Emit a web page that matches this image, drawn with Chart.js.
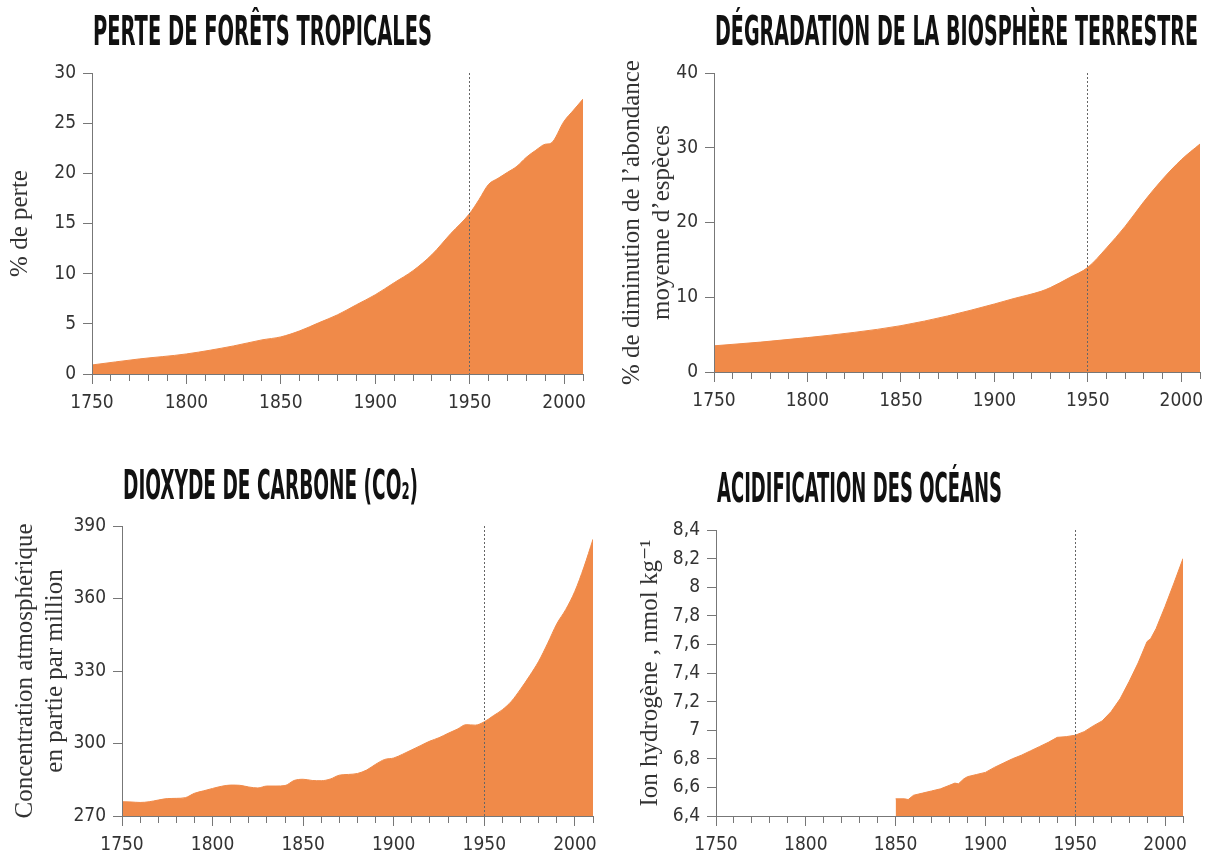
<!DOCTYPE html>
<html>
<head>
<meta charset="utf-8">
<script src="https://cdn.jsdelivr.net/npm/chart.js@4.4.1/dist/chart.umd.min.js"></script>
<style>
  html, body { margin: 0; padding: 0; background: #fff; }
  #page { position: relative; width: 1209px; height: 856px; overflow: hidden; }
  .panel { position: absolute; }
</style>
</head>
<body>
<div id="page">
  <div class="panel" style="left:0;top:0"><canvas id="forest" width="604" height="430"></canvas></div>
  <div class="panel" style="left:604px;top:0"><canvas id="biosphere" width="605" height="430"></canvas></div>
  <div class="panel" style="left:0;top:430px"><canvas id="co2" width="604" height="426"></canvas></div>
  <div class="panel" style="left:604px;top:430px"><canvas id="ocean" width="605" height="426"></canvas></div>
</div>
<script>
// values
const forestYears = [1750, 1775, 1800, 1825, 1840, 1850, 1860, 1870, 1880, 1890, 1900, 1910, 1920, 1930, 1940, 1950, 1955, 1960, 1965, 1970, 1975, 1980, 1985, 1990, 1993, 2000, 2005, 2010]
const forestLoss = [0.9, 1.5, 2.0, 2.8, 3.4, 3.7, 4.3, 5.1, 5.9, 6.9, 7.9, 9.1, 10.3, 11.9, 14.0, 16.0, 17.4, 18.9, 19.5, 20.1, 20.7, 21.6, 22.3, 22.9, 23.0, 25.2, 26.3, 27.4]

const biosphereYears = [1750, 1775, 1800, 1825, 1850, 1875, 1900, 1910, 1925, 1930, 1940, 1950, 1960, 1970, 1980, 1990, 2000, 2010]
const biosphereLoss = [3.5, 4.0, 4.6, 5.3, 6.2, 7.5, 9.1, 9.8, 10.8, 11.3, 12.6, 14.0, 16.6, 19.5, 22.8, 25.8, 28.4, 30.5]

const co2Years = [1750, 1755, 1760, 1765, 1770, 1775, 1780, 1785, 1790, 1795, 1800, 1805, 1810, 1815, 1820, 1825, 1830, 1835, 1840, 1845, 1850, 1855, 1860, 1865, 1870, 1875, 1880, 1885, 1890, 1895, 1900, 1905, 1910, 1915, 1920, 1925, 1930, 1935, 1940, 1945, 1950, 1955, 1960, 1965, 1970, 1975, 1980, 1985, 1990, 1995, 2000, 2005, 2010]
const co2Ppm = [275.9, 275.8, 275.6, 275.9, 276.6, 277.2, 277.3, 277.6, 279.4, 280.4, 281.4, 282.3, 282.8, 282.7, 282.0, 281.6, 282.4, 282.4, 282.6, 284.7, 285.2, 284.7, 284.6, 285.3, 286.9, 287.2, 287.6, 289.0, 291.4, 293.4, 294.0, 295.6, 297.4, 299.2, 301.0, 302.4, 304.2, 305.9, 307.8, 307.6, 309.0, 311.5, 314.0, 317.5, 322.5, 328.0, 334.0, 341.5, 349.5, 355.5, 363.0, 373.0, 384.5]

const oceanYears = [1850, 1855, 1857, 1860, 1865, 1870, 1875, 1880, 1883, 1885, 1888, 1890, 1895, 1900, 1905, 1910, 1915, 1920, 1925, 1930, 1935, 1940, 1945, 1950, 1955, 1960, 1965, 1970, 1975, 1980, 1985, 1990, 1992, 1995, 2000, 2005, 2010]
const oceanHydrogen = [6.52, 6.52, 6.515, 6.545, 6.56, 6.575, 6.59, 6.615, 6.63, 6.625, 6.66, 6.675, 6.69, 6.705, 6.74, 6.77, 6.8, 6.825, 6.855, 6.885, 6.915, 6.95, 6.955, 6.965, 6.99, 7.03, 7.065, 7.13, 7.22, 7.34, 7.47, 7.62, 7.64, 7.71, 7.865, 8.03, 8.2]

const firstYear = 1750
const lastYear = 2010
const labelEvery = 50
const markYear = 1950

const orange = "#F08A49"
const tickFont = { family: "'Liberation Sans Narrow', 'DejaVu Sans Condensed', sans-serif", size: 19 }
const serifFont = { family: "'Liberation Serif', 'DejaVu Serif', serif", size: 25, lineHeight: 1.2 }

const panelTitle = {
  id: "panelTitle",
  afterDraw(chart, args, opts) {
    const ctx = chart.ctx
    ctx.save()
    ctx.font = "bold 40px 'Liberation Sans Narrow', 'DejaVu Sans Condensed', sans-serif"
    ctx.fillStyle = "#111"
    ctx.textBaseline = "alphabetic"
    const w = ctx.measureText(opts.text).width
    ctx.translate(chart.chartArea.left + 1, opts.baseline)
    ctx.scale(opts.width / w, 1)
    ctx.fillText(opts.text, 0, 0)
    ctx.restore()
  }
}

function pairs(xs, ys) {
  return xs.map((x, i) => ({ x: x, y: ys[i] }))
}

function makeChart(id, p) {
  const canvas = document.getElementById(id)
  const W = canvas.width, H = canvas.height
  return new Chart(canvas, {
    type: "line",
    plugins: [panelTitle],
    data: {
      datasets: [{
        data: pairs(p.years, p.values),
        fill: "start",
        backgroundColor: orange,
        borderColor: orange,
        borderWidth: 1,
        pointRadius: 0,
        tension: p.tension,
        cubicInterpolationMode: p.tension ? "monotone" : "default"
      }]
    },
    options: {
      responsive: false,
      animation: false,
      events: [],
      layout: { padding: { top: p.area.top, right: W - p.area.right, bottom: 0, left: 0 } },
      plugins: {
        legend: { display: false },
        tooltip: { enabled: false },
        panelTitle: { text: p.title, width: p.titleWidth, baseline: p.titleBaseline }
      },
      scales: {
        x: {
          type: "linear",
          min: firstYear,
          max: lastYear,
          afterFit: s => { s.height = H - p.area.bottom },
          border: { color: "#777", width: 1, dash: [2, 2], z: 1 },
          grid: {
            z: 1,
            drawOnChartArea: true,
            color: c => (c.tick && c.tick.value === markYear ? "#666" : "rgba(0,0,0,0)"),
            lineWidth: 1,
            tickColor: "#777",
            tickLength: 10,
            tickBorderDash: c => (c.tick && c.tick.value % labelEvery === 0 ? [] : [6, 40])
          },
          ticks: {
            stepSize: 10,
            autoSkip: false,
            maxRotation: 0,
            padding: 8,
            color: "#333",
            font: tickFont,
            callback: v => (v % labelEvery === 0 ? String(v) : "")
          }
        },
        y: {
          min: p.yMin,
          max: p.yMax,
          afterFit: s => { s.width = p.area.left },
          border: { color: "#777", width: 1, z: 1 },
          grid: { drawOnChartArea: false, tickColor: "#777", tickLength: 9 },
          ticks: {
            stepSize: p.yStep,
            padding: 7,
            color: "#333",
            font: tickFont,
            callback: v => String(Math.round(v * 10) / 10).replace(".", ",")
          },
          title: {
            display: true,
            text: p.yTitle,
            color: "#333",
            font: serifFont,
            padding: { top: p.yTitlePad, bottom: 0 }
          }
        }
      }
    }
  })
}

makeChart("forest", {
  title: "PERTE DE FORÊTS TROPICALES", titleWidth: 339, titleBaseline: 45,
  years: forestYears, values: forestLoss, tension: 0.3,
  yMin: 0, yMax: 30, yStep: 5,
  yTitle: "% de perte", yTitlePad: 5,
  area: { left: 92, right: 583, top: 73, bottom: 374 }
})

makeChart("biosphere", {
  title: "DÉGRADATION DE LA BIOSPHÈRE TERRESTRE", titleWidth: 483, titleBaseline: 45,
  years: biosphereYears, values: biosphereLoss, tension: 0.3,
  yMin: 0, yMax: 40, yStep: 10,
  yTitle: ["% de diminution de l’abondance", "moyenne d’espèces"], yTitlePad: 13,
  area: { left: 110, right: 596, top: 73, bottom: 372 }
})

makeChart("co2", {
  title: "DIOXYDE DE CARBONE (CO₂)", titleWidth: 295, titleBaseline: 69,
  years: co2Years, values: co2Ppm, tension: 0.3,
  yMin: 270, yMax: 390, yStep: 30,
  yTitle: ["Concentration atmosphérique", "en partie par million"], yTitlePad: 10,
  area: { left: 122, right: 593, top: 96, bottom: 386 }
})

makeChart("ocean", {
  title: "ACIDIFICATION DES OCÉANS", titleWidth: 285, titleBaseline: 72,
  years: oceanYears, values: oceanHydrogen, tension: 0,
  yMin: 6.4, yMax: 8.4, yStep: 0.2,
  yTitle: "Ion hydrogène , nmol kg⁻¹", yTitlePad: 31,
  area: { left: 112, right: 579, top: 100, bottom: 386 }
})
</script>
</body>
</html>
